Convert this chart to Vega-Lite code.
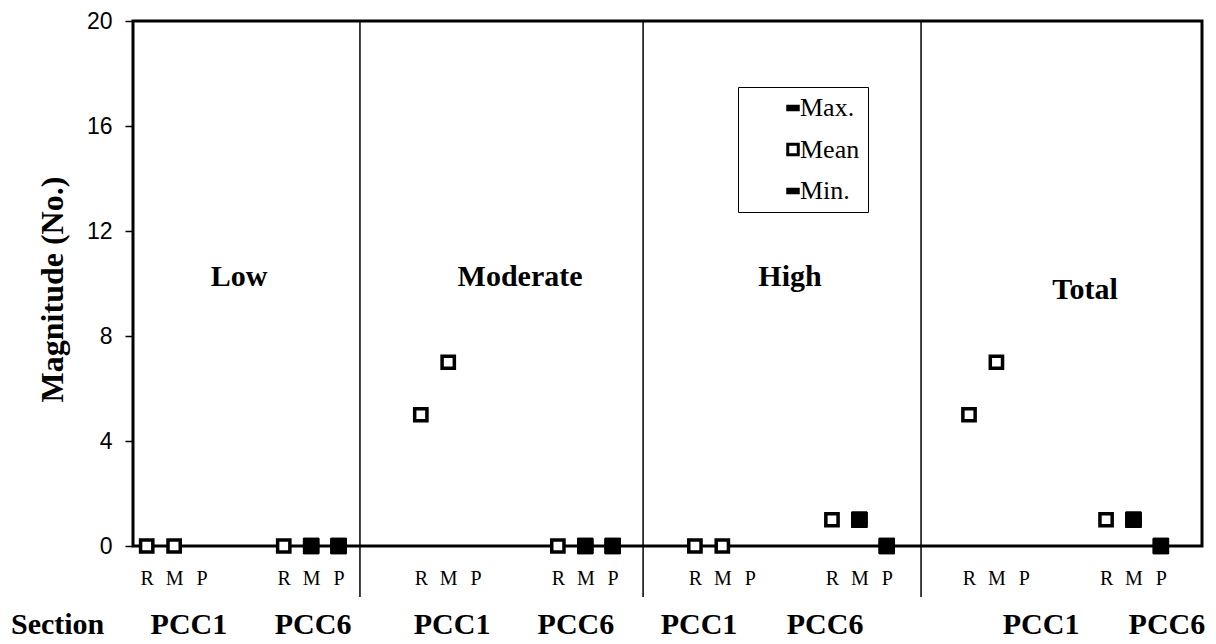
{
  "$schema": "https://vega.github.io/schema/vega-lite/v6.json",
  "width": 1069,
  "height": 525,
  "autosize": {"type": "none"},
  "padding": {"left": 133, "top": 21, "right": 14, "bottom": 98},
  "background": "white",
  "config": {
    "view": {"stroke": "black", "strokeWidth": 3},
    "font": "Liberation Serif"
  },
  "datasets": {
    "points": [
      {"slot": "Low-PCC1-R", "stat": "Mean", "value": 0},
      {"slot": "Low-PCC1-M", "stat": "Mean", "value": 0},
      {"slot": "Low-PCC6-R", "stat": "Mean", "value": 0},
      {"slot": "Low-PCC6-M", "stat": "Max.", "value": 0},
      {"slot": "Low-PCC6-M", "stat": "Min.", "value": 0},
      {"slot": "Low-PCC6-P", "stat": "Max.", "value": 0},
      {"slot": "Low-PCC6-P", "stat": "Min.", "value": 0},
      {"slot": "Moderate-PCC1-R", "stat": "Mean", "value": 5},
      {"slot": "Moderate-PCC1-M", "stat": "Mean", "value": 7},
      {"slot": "Moderate-PCC6-R", "stat": "Mean", "value": 0},
      {"slot": "Moderate-PCC6-M", "stat": "Max.", "value": 0},
      {"slot": "Moderate-PCC6-M", "stat": "Min.", "value": 0},
      {"slot": "Moderate-PCC6-P", "stat": "Max.", "value": 0},
      {"slot": "Moderate-PCC6-P", "stat": "Min.", "value": 0},
      {"slot": "High-PCC1-R", "stat": "Mean", "value": 0},
      {"slot": "High-PCC1-M", "stat": "Mean", "value": 0},
      {"slot": "High-PCC6-R", "stat": "Mean", "value": 1},
      {"slot": "High-PCC6-M", "stat": "Max.", "value": 1},
      {"slot": "High-PCC6-M", "stat": "Min.", "value": 1},
      {"slot": "High-PCC6-P", "stat": "Max.", "value": 0},
      {"slot": "High-PCC6-P", "stat": "Min.", "value": 0},
      {"slot": "Total-PCC1-R", "stat": "Mean", "value": 5},
      {"slot": "Total-PCC1-M", "stat": "Mean", "value": 7},
      {"slot": "Total-PCC6-R", "stat": "Mean", "value": 1},
      {"slot": "Total-PCC6-M", "stat": "Max.", "value": 1},
      {"slot": "Total-PCC6-M", "stat": "Min.", "value": 1},
      {"slot": "Total-PCC6-P", "stat": "Max.", "value": 0},
      {"slot": "Total-PCC6-P", "stat": "Min.", "value": 0}
    ],
    "dividers": [{"x": 7.78}, {"x": 18.11}, {"x": 28.25}],
    "panels": [
      {"label": "Low", "x": 3.37, "y": 10.23},
      {"label": "Moderate", "x": 13.62, "y": 10.23},
      {"label": "High", "x": 23.47, "y": 10.23},
      {"label": "Total", "x": 34.23, "y": 9.75}
    ],
    "sections": [
      {"label": "Section", "x": -3.25, "y": -3.01},
      {"label": "PCC1", "x": 1.54, "y": -3.01},
      {"label": "PCC6", "x": 6.07, "y": -3.01},
      {"label": "PCC1", "x": 11.14, "y": -3.01},
      {"label": "PCC6", "x": 15.66, "y": -3.01},
      {"label": "PCC1", "x": 20.15, "y": -3.01},
      {"label": "PCC6", "x": 24.75, "y": -3.01},
      {"label": "PCC1", "x": 32.63, "y": -3.01},
      {"label": "PCC6", "x": 37.22, "y": -3.01}
    ]
  },
  "resolve": {"scale": {"x": "independent"}},
  "layer": [
    {
      "data": {"name": "dividers"},
      "mark": {"type": "rule", "color": "black", "strokeWidth": 1.5},
      "encoding": {
        "x": {"field": "x", "type": "quantitative", "scale": {"domain": [-0.5, 38.5], "nice": false, "zero": false}, "axis": null},
        "y": {
          "datum": 20, "type": "quantitative", "scale": {"domain": [0, 20], "nice": false},
          "axis": {
            "title": "Magnitude (No.)", "values": [0, 4, 8, 12, 16, 20], "grid": false, "domain": false,
            "tickColor": "black", "tickSize": 8, "tickWidth": 1.5,
            "labelFont": "Liberation Sans", "labelFontSize": 23, "labelColor": "black", "labelPadding": 13,
            "titleFont": "Liberation Serif", "titleFontSize": 32, "titleFontWeight": "bold", "titleColor": "black",
            "titleX": -71, "titleY": 268, "titleBaseline": "alphabetic", "titleAngle": -90, "titleAlign": "center"
          }
        },
        "y2": {"datum": -1.94}
      }
    },
    {
      "data": {"name": "points"},
      "mark": {"type": "point", "stroke": "black", "strokeWidth": 3.5, "size": 150, "opacity": 1, "fillOpacity": 1, "strokeOpacity": 1},
      "encoding": {
        "x": {
          "field": "slot", "type": "ordinal",
          "scale": {
            "type": "point", "padding": 0.5,
            "domain": [
              "Low-PCC1-R", "Low-PCC1-M", "Low-PCC1-P", "Low-gap1", "Low-gap2", "Low-PCC6-R", "Low-PCC6-M", "Low-PCC6-P", "Low-gap3", "Low-gap4",
              "Moderate-PCC1-R", "Moderate-PCC1-M", "Moderate-PCC1-P", "Moderate-gap1", "Moderate-gap2", "Moderate-PCC6-R", "Moderate-PCC6-M", "Moderate-PCC6-P", "Moderate-gap3", "Moderate-gap4",
              "High-PCC1-R", "High-PCC1-M", "High-PCC1-P", "High-gap1", "High-gap2", "High-PCC6-R", "High-PCC6-M", "High-PCC6-P", "High-gap3", "High-gap4",
              "Total-PCC1-R", "Total-PCC1-M", "Total-PCC1-P", "Total-gap1", "Total-gap2", "Total-PCC6-R", "Total-PCC6-M", "Total-PCC6-P", "Total-gap3"
            ]
          },
          "axis": {
            "title": null, "ticks": false, "domain": false, "grid": false, "labelAngle": 0,
            "labelExpr": "indexof(['R','M','P'], slice(datum.value, -1)) >= 0 ? slice(datum.value, -1) : ''",
            "labelFont": "Liberation Serif", "labelFontSize": 20, "labelColor": "black", "labelPadding": 22
          }
        },
        "y": {
          "field": "value", "type": "quantitative",
          "axis": {
            "title": "Magnitude (No.)", "values": [0, 4, 8, 12, 16, 20], "grid": false, "domain": false,
            "tickColor": "black", "tickSize": 8, "tickWidth": 1.5,
            "labelFont": "Liberation Sans", "labelFontSize": 23, "labelColor": "black", "labelPadding": 13,
            "titleFont": "Liberation Serif", "titleFontSize": 32, "titleFontWeight": "bold", "titleColor": "black",
            "titleX": -71, "titleY": 268, "titleBaseline": "alphabetic", "titleAngle": -90, "titleAlign": "center"
          }
        },
        "shape": {
          "field": "stat", "type": "nominal",
          "scale": {"domain": ["Max.", "Mean", "Min."], "range": ["M-1,-0.35H1V0.35H-1Z", "square", "M-1,-0.35H1V0.35H-1Z"]},
          "legend": {
            "title": null, "orient": "none", "legendX": 605, "legendY": 66, "direction": "vertical",
            "padding": 8, "rowPadding": 15.5, "symbolOffset": 34, "labelOffset": -6, "labelLimit": 300,
            "labelFont": "Liberation Serif", "labelFontSize": 26, "labelColor": "black",
            "strokeColor": "black", "fillColor": "white",
            "symbolSize": 110, "symbolStrokeWidth": 3, "symbolStrokeColor": "black"
          }
        },
        "fill": {
          "field": "stat", "type": "nominal",
          "scale": {"domain": ["Max.", "Mean", "Min."], "range": ["black", "white", "black"]},
          "legend": {
            "title": null, "orient": "none", "legendX": 605, "legendY": 66, "direction": "vertical",
            "padding": 8, "rowPadding": 15.5, "symbolOffset": 34, "labelOffset": -6, "labelLimit": 300,
            "labelFont": "Liberation Serif", "labelFontSize": 26, "labelColor": "black",
            "strokeColor": "black", "fillColor": "white",
            "symbolSize": 110, "symbolStrokeWidth": 3, "symbolStrokeColor": "black"
          }
        },
        "stroke": {
          "field": "stat", "type": "nominal",
          "scale": {"domain": ["Max.", "Mean", "Min."], "range": ["black", "black", "black"]},
          "legend": {
            "title": null, "orient": "none", "legendX": 605, "legendY": 66, "direction": "vertical",
            "padding": 8, "rowPadding": 15.5, "symbolOffset": 34, "labelOffset": -6, "labelLimit": 300,
            "labelFont": "Liberation Serif", "labelFontSize": 26, "labelColor": "black",
            "strokeColor": "black", "fillColor": "white",
            "symbolSize": 110, "symbolStrokeWidth": 3, "symbolStrokeColor": "black"
          }
        }
      }
    },
    {
      "data": {"name": "points"},
      "transform": [{"filter": "datum.stat !== 'Mean'"}],
      "mark": {"type": "point", "shape": "square", "filled": true, "color": "black", "stroke": "black", "strokeWidth": 1, "size": 240, "opacity": 1},
      "encoding": {
        "x": {
          "field": "slot", "type": "ordinal",
          "scale": {
            "type": "point", "padding": 0.5,
            "domain": [
              "Low-PCC1-R", "Low-PCC1-M", "Low-PCC1-P", "Low-gap1", "Low-gap2", "Low-PCC6-R", "Low-PCC6-M", "Low-PCC6-P", "Low-gap3", "Low-gap4",
              "Moderate-PCC1-R", "Moderate-PCC1-M", "Moderate-PCC1-P", "Moderate-gap1", "Moderate-gap2", "Moderate-PCC6-R", "Moderate-PCC6-M", "Moderate-PCC6-P", "Moderate-gap3", "Moderate-gap4",
              "High-PCC1-R", "High-PCC1-M", "High-PCC1-P", "High-gap1", "High-gap2", "High-PCC6-R", "High-PCC6-M", "High-PCC6-P", "High-gap3", "High-gap4",
              "Total-PCC1-R", "Total-PCC1-M", "Total-PCC1-P", "Total-gap1", "Total-gap2", "Total-PCC6-R", "Total-PCC6-M", "Total-PCC6-P", "Total-gap3"
            ]
          },
          "axis": null
        },
        "y": {
          "field": "value", "type": "quantitative",
          "axis": {
            "title": "Magnitude (No.)", "values": [0, 4, 8, 12, 16, 20], "grid": false, "domain": false,
            "tickColor": "black", "tickSize": 8, "tickWidth": 1.5,
            "labelFont": "Liberation Sans", "labelFontSize": 23, "labelColor": "black", "labelPadding": 13,
            "titleFont": "Liberation Serif", "titleFontSize": 32, "titleFontWeight": "bold", "titleColor": "black",
            "titleX": -71, "titleY": 268, "titleBaseline": "alphabetic", "titleAngle": -90, "titleAlign": "center"
          }
        }
      }
    },
    {
      "data": {"name": "panels"},
      "mark": {"type": "text", "font": "Liberation Serif", "fontSize": 30, "fontWeight": "bold", "color": "black", "align": "center", "baseline": "middle"},
      "encoding": {
        "x": {"field": "x", "type": "quantitative", "scale": {"domain": [-0.5, 38.5], "nice": false, "zero": false}, "axis": null},
        "y": {
          "field": "y", "type": "quantitative",
          "axis": {
            "title": "Magnitude (No.)", "values": [0, 4, 8, 12, 16, 20], "grid": false, "domain": false,
            "tickColor": "black", "tickSize": 8, "tickWidth": 1.5,
            "labelFont": "Liberation Sans", "labelFontSize": 23, "labelColor": "black", "labelPadding": 13,
            "titleFont": "Liberation Serif", "titleFontSize": 32, "titleFontWeight": "bold", "titleColor": "black",
            "titleX": -71, "titleY": 268, "titleBaseline": "alphabetic", "titleAngle": -90, "titleAlign": "center"
          }
        },
        "text": {"field": "label"}
      }
    },
    {
      "data": {"name": "sections"},
      "mark": {"type": "text", "font": "Liberation Serif", "fontSize": 30, "fontWeight": "bold", "color": "black", "align": "center", "baseline": "middle"},
      "encoding": {
        "x": {"field": "x", "type": "quantitative", "scale": {"domain": [-0.5, 38.5], "nice": false, "zero": false}, "axis": null},
        "y": {
          "field": "y", "type": "quantitative",
          "axis": {
            "title": "Magnitude (No.)", "values": [0, 4, 8, 12, 16, 20], "grid": false, "domain": false,
            "tickColor": "black", "tickSize": 8, "tickWidth": 1.5,
            "labelFont": "Liberation Sans", "labelFontSize": 23, "labelColor": "black", "labelPadding": 13,
            "titleFont": "Liberation Serif", "titleFontSize": 32, "titleFontWeight": "bold", "titleColor": "black",
            "titleX": -71, "titleY": 268, "titleBaseline": "alphabetic", "titleAngle": -90, "titleAlign": "center"
          }
        },
        "text": {"field": "label"}
      }
    }
  ]
}
